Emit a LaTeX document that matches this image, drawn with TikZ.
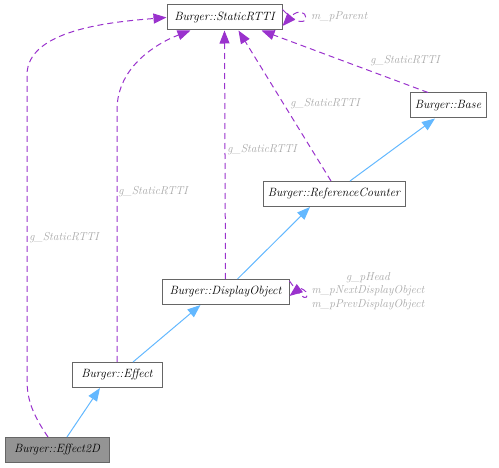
\documentclass[tikz,border=0pt]{standalone}
\usetikzlibrary{arrows.meta}
\definecolor{inh}{HTML}{63B8FF}
\definecolor{use}{HTML}{9A32CD}
\definecolor{lbl}{HTML}{A8A8A8}
\definecolor{edgegray}{HTML}{666666}
\begin{document}
\begin{tikzpicture}[x=1pt,y=-1pt,
  cls/.style={draw=edgegray,line width=1pt,fill=white,inner sep=0pt,minimum height=25pt,font=\fontsize{12}{14}\selectfont\itshape},
  inhedge/.style={draw=inh,line width=1pt,-{Triangle[length=13pt,width=10pt]}},
  useedge/.style={draw=use,line width=1pt,dash pattern=on 6pt off 4pt,-{Triangle[length=13pt,width=10pt]}},
  lab/.style={text=lbl,font=\fontsize{11.5}{13.5}\selectfont\itshape,inner sep=0pt}]
\useasboundingbox (0,0) rectangle (499,468);
\node[cls,minimum width=115pt] (srtti) at (224.5,17.5) {Burger::StaticRTTI};
\node[cls,minimum width=76pt] (base) at (448,105.5) {Burger::Base};
\node[cls,minimum width=142pt] (rc) at (334,194) {Burger::ReferenceCounter};
\node[cls,minimum width=127pt] (dobj) at (225.5,292) {Burger::DisplayObject};
\node[cls,minimum width=90pt] (eff) at (117,375) {Burger::Effect};
\node[cls,minimum width=104pt,fill=black!42] (e2d) at (57,450) {Burger::Effect2D};
% inheritance
\draw[inhedge] ([xshift=10pt]e2d.north) -- ([xshift=-17pt]eff.south);
\draw[inhedge] ([xshift=16pt]eff.north) -- ([xshift=-25pt]dobj.south);
\draw[inhedge] ([xshift=12pt]dobj.north) -- ([xshift=-24pt]rc.south);
\draw[inhedge] ([xshift=16pt]rc.north) -- ([xshift=-13pt]base.south);
% usage
\draw[useedge] ([xshift=-9pt]e2d.north) .. controls (33,415) and (27,400) .. (27,380) -- (27,75) .. controls (27,30) and (110,22) .. (srtti.west);
\node[lab] (l1) at (64,238) {g\_StaticRTTI};
\draw[useedge] (eff.north) -- (117,110) .. controls (117,65) and (160,42) .. ([xshift=-34pt]srtti.south);
\node[lab] (l2) at (153,192) {g\_StaticRTTI};
\draw[useedge] (dobj.north) -- (srtti.south);
\node[lab] (l3) at (262,150) {g\_StaticRTTI};
\draw[useedge] ([xshift=-3pt]rc.north) -- ([xshift=14pt]srtti.south);
\node[lab] (l4) at (325,104) {g\_StaticRTTI};
\draw[useedge] ([xshift=-20pt]base.north) -- ([xshift=37pt]srtti.south);
\node[lab] (l5) at (405,61) {g\_StaticRTTI};
% self loops
\draw[useedge] ([yshift=8pt]srtti.east) .. controls (298,26) and (306,22) .. (306,18) .. controls (306,12) and (298,9) .. ([yshift=-8.5pt]srtti.east);
\node[lab,anchor=west] (l6) at (311,17) {m\_pParent};
\draw[useedge] ([yshift=11pt]dobj.east) .. controls (305,303) and (307,298) .. (307,295) .. controls (307,290) and (300,288) .. ([yshift=-4pt]dobj.east);
\node[lab,align=center] (l7) at (368,291) {g\_pHead\\m\_pNextDisplayObject\\m\_pPrevDisplayObject};
\end{tikzpicture}
\end{document}
